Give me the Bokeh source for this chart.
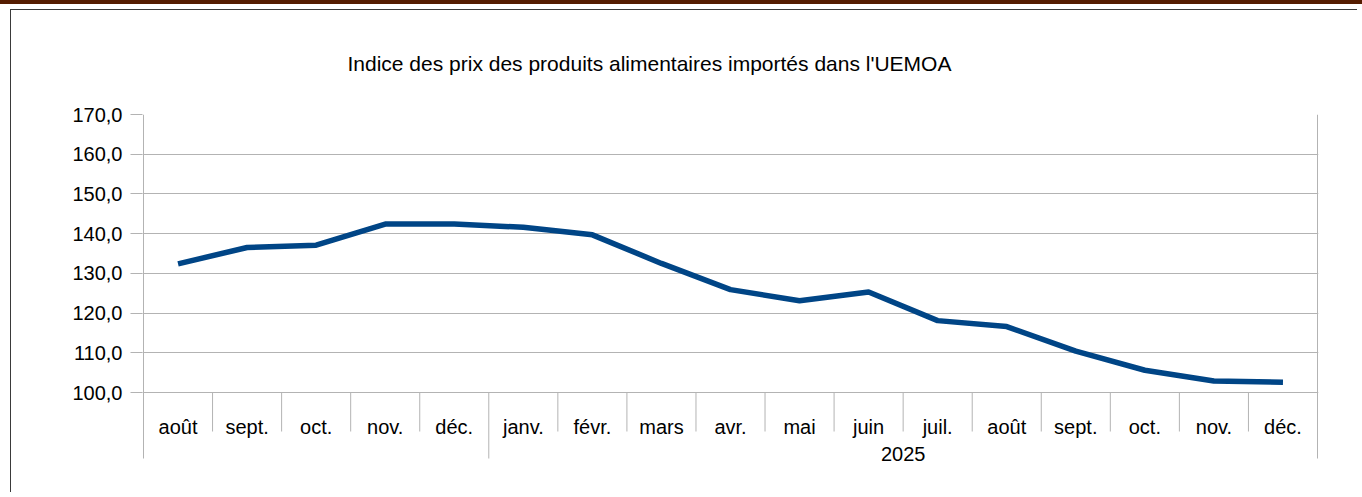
from bokeh.plotting import figure
from bokeh.models import Range1d, FixedTicker, ColumnDataSource
from bokeh.core.properties import value
from bokeh.embed import file_html
from bokeh.resources import INLINE

# ---- data ----
months = ["août", "sept.", "oct.", "nov.", "déc.", "janv.", "févr.", "mars", "avr.",
          "mai", "juin", "juil.", "août", "sept.", "oct.", "nov.", "déc."]
years = ["", "", "", "", "", "2025", "2025", "2025", "2025", "2025", "2025", "2025",
         "2025", "2025", "2025", "2025", "2025"]
index_values = [132.4, 136.5, 137.1, 142.4, 142.4, 141.6, 139.7, 132.5, 125.9,
                123.1, 125.3, 118.1, 116.6, 110.4, 105.6, 102.9, 102.6]
y_ticks = [100, 110, 120, 130, 140, 150, 160, 170]
y_tick_labels = ["100,0", "110,0", "120,0", "130,0", "140,0", "150,0", "160,0", "170,0"]
title_text = "Indice des prix des produits alimentaires importés dans l'UEMOA"

FONT = "Liberation Sans"
GRID = "#b3b3b3"
LINE = "#004586"

n = len(months)
px_per_unit = 278 / 70.0          # 170 -> 100 over 278 px
px_per_cat = 1174 / n
pad = 1 / px_per_cat              # one pixel in x data units
y_bottom = 100 - 84 / px_per_unit  # frame goes 84 px below the 100 line
sep_short = 100 - 39 / px_per_unit
sep_long = 100 - 66 / px_per_unit

p = figure(width=1346, height=481, output_backend="svg", toolbar_location=None,
           frame_width=1176, frame_height=362,
           x_range=Range1d(-pad, n + pad), y_range=Range1d(y_bottom, 170),
           x_axis_type=None, min_border_left=131, min_border_top=103,
           min_border_right=39, min_border_bottom=16)
p.styles = {"margin-left": "10px", "margin-top": "9px",
            "border-left": "1px solid #3a3a3a", "border-top": "1px solid #3a3a3a",
            "box-shadow": "0 5px 0 10px #ffffff, 0 1px 0 10px #551c00"}
p.outline_line_color = None
p.xgrid.visible = False
p.ygrid.grid_line_color = GRID
p.ygrid.ticker = FixedTicker(ticks=y_ticks)

p.title.text = title_text
p.title.align = "left"
p.title.offset = 205
p.title.standoff = 79
p.title.text_font = FONT
p.title.text_font_size = "21px"
p.title.text_font_style = "normal"
p.title.text_color = "black"

ya = p.yaxis[0]
ya.ticker = FixedTicker(ticks=y_ticks)
ya.major_label_overrides = {t: l for t, l in zip(y_ticks, y_tick_labels)}
ya.axis_line_color = None
ya.major_tick_line_color = GRID
ya.major_tick_out = 12
ya.major_tick_in = 0
ya.minor_tick_line_color = None
ya.major_label_standoff = 8
ya.major_label_text_font = FONT
ya.major_label_text_font_size = "20px"
ya.major_label_text_color = "black"

xs = [i + 0.5 for i in range(n)]

# axis line, category and group separators, right border
sep_x, sep_y0, sep_y1 = [0], [170], [sep_long]
for i in range(1, n + 1):
    sep_x.append(i)
    if i == n:
        sep_y0.append(170); sep_y1.append(sep_long)
    elif years[i] != years[i - 1]:
        sep_y0.append(100); sep_y1.append(sep_long)
    else:
        sep_y0.append(100); sep_y1.append(sep_short)
p.segment(x0=sep_x, x1=sep_x, y0=sep_y0, y1=sep_y1, line_color=GRID, line_width=1)

# series line
src = ColumnDataSource(dict(x=xs, y=index_values))
p.line("x", "y", source=src, line_color=LINE, line_width=5.5, line_join="round")

# month labels
p.text(x=xs, y=[100 - 34 / px_per_unit] * n, text=months, text_align="center",
       text_baseline="middle", text_font=value(FONT), text_font_size="20px",
       text_color="black")

# year group labels
groups = []
for y in years:
    if y and y not in groups:
        groups.append(y)
gx = []
for g in groups:
    idx = [i for i, y in enumerate(years) if y == g]
    gx.append((idx[0] + idx[-1] + 1) / 2)
p.text(x=gx, y=[100 - 61 / px_per_unit] * len(gx), text=groups, text_align="center",
       text_baseline="middle", text_font=value(FONT), text_font_size="20px",
       text_color="black")

open("out.html", "w").write(file_html(p, INLINE))
